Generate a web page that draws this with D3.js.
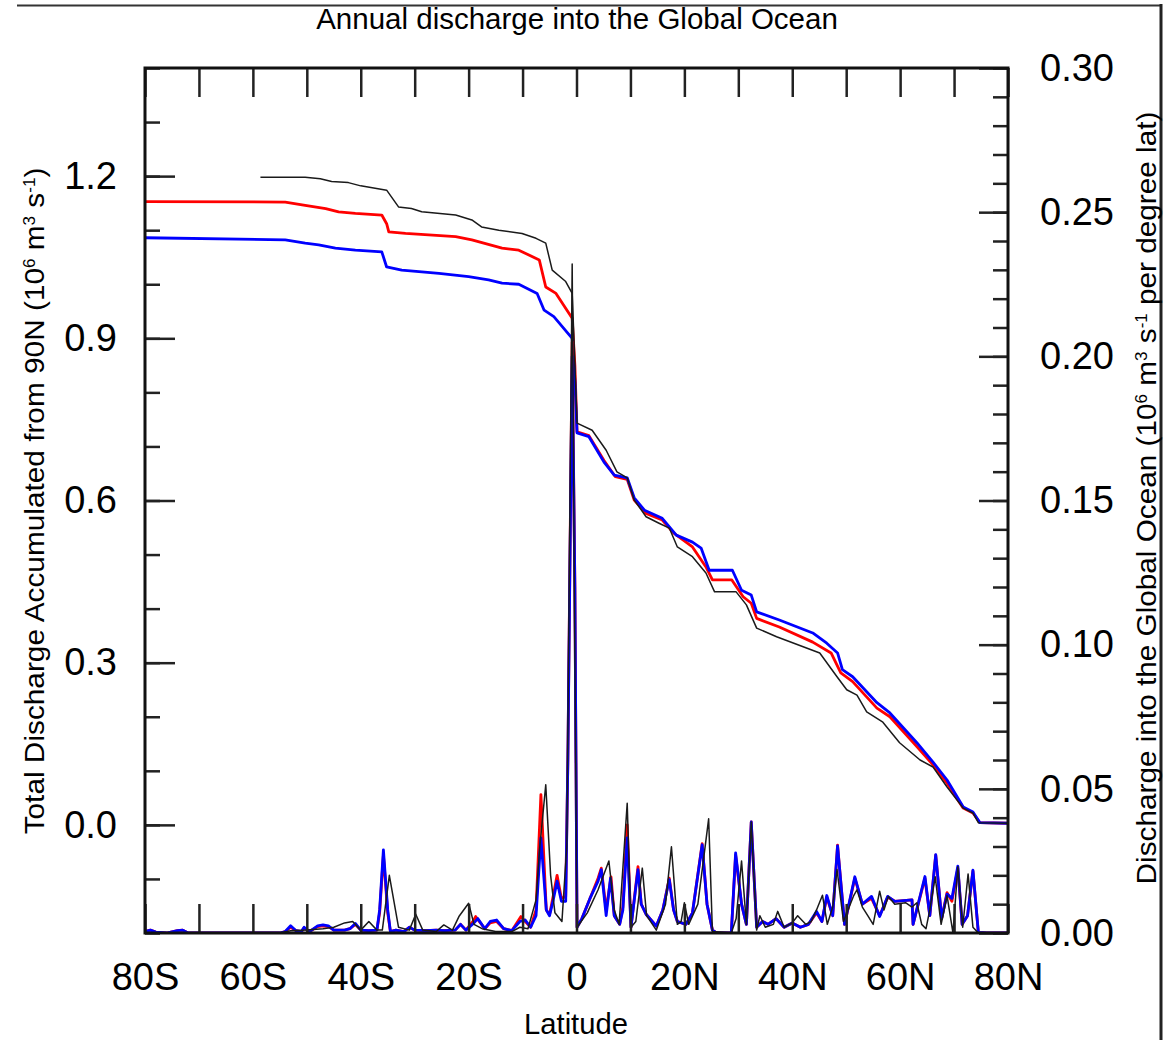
<!DOCTYPE html>
<html>
<head>
<meta charset="utf-8">
<script src="https://cdn.jsdelivr.net/npm/d3@7"></script>
<style>
  body { margin: 0; background: #fff; }
  text { font-family: "Liberation Sans", Arial, Helvetica, sans-serif; fill: #000; }
</style>
</head>
<body>
<div id="chart"></div>
<script>
// accumulated discharge from 90N, [latitude, 10^6 m3/s]
const accRed = [[-80,1.153],[-54,1.152],[-50.3,1.146],[-46.5,1.14],[-44.1,1.134],[-41,1.131],[-36.1,1.128],[-35.2,1.112],[-34.8,1.097],[-31.7,1.094],[-22.4,1.088],[-19.4,1.082],[-13.8,1.067],[-10.7,1.063],[-6.9,1.045],[-5.7,0.995],[-3.8,0.983],[-0.8,0.937],[-0.3,0.85],[0.1,0.727],[2.3,0.72],[5.1,0.674],[7.2,0.644],[9.4,0.639],[10.7,0.601],[12.9,0.576],[15.9,0.564],[18.1,0.539],[21.5,0.514],[24,0.477],[25.2,0.453],[28.8,0.453],[30.9,0.422],[32.4,0.41],[33.4,0.382],[37.6,0.366],[43.8,0.338],[47.2,0.318],[49,0.281],[51.2,0.265],[55.7,0.216],[58.1,0.2],[63.1,0.145],[66.1,0.111],[68.7,0.077],[71.7,0.031],[73.5,0.022],[74.8,0.004],[80,0.003]];
const accBlue = [[-80,1.086],[-54,1.082],[-50.3,1.076],[-47.8,1.073],[-44.7,1.067],[-41,1.063],[-36.1,1.06],[-35.2,1.032],[-32.4,1.026],[-25.5,1.02],[-20,1.014],[-16.3,1.008],[-13.8,1.002],[-10.7,1.0],[-7.3,0.983],[-6,0.952],[-4.2,0.94],[-0.8,0.9],[-0.3,0.82],[0.1,0.725],[2.3,0.718],[5.1,0.671],[7,0.647],[9.4,0.642],[10.7,0.605],[12.6,0.582],[15.9,0.567],[18.5,0.536],[21.5,0.523],[23.1,0.512],[24.6,0.471],[28.9,0.471],[30.6,0.434],[32.4,0.425],[33.4,0.394],[37.6,0.379],[43.8,0.355],[46.4,0.336],[48.4,0.318],[49.3,0.287],[51.2,0.274],[55.7,0.226],[58.1,0.207],[63.1,0.152],[66.1,0.116],[68.7,0.083],[71.7,0.033],[73.5,0.024],[74.8,0.004],[80,0.003]];
const accBlack = [[-58.6,1.198],[-50.3,1.198],[-47.5,1.195],[-45.4,1.19],[-42.3,1.188],[-40,1.182],[-35.2,1.174],[-33,1.143],[-30.6,1.14],[-28.7,1.134],[-22.4,1.128],[-19.4,1.119],[-17.6,1.106],[-14.4,1.1],[-10.1,1.094],[-7.5,1.085],[-5.7,1.076],[-4.5,1.026],[-2,1.005],[-0.8,0.983],[-0.4,0.88],[0.1,0.743],[2.9,0.73],[5.5,0.693],[7.5,0.653],[9.4,0.642],[10.7,0.601],[12.9,0.57],[15.3,0.558],[17.2,0.549],[18.7,0.514],[21.5,0.496],[24,0.466],[25.6,0.431],[29.6,0.431],[31.5,0.407],[33.4,0.364],[37.1,0.348],[45.1,0.318],[48.3,0.274],[50.1,0.25],[52,0.24],[53.8,0.209],[56.8,0.19],[59.9,0.152],[63.7,0.12],[66.1,0.107],[68.7,0.07],[71.7,0.031],[73.5,0.022],[74.5,0.004],[80,0.003]];

// discharge per degree latitude, [latitude, 10^6 m3/s]
const disBlue = [[-80,0.0005],[-79,0.001],[-78,0.0003],[-76,0],[-74,0.0008],[-73,0.001],[-72,0],[-55,0],[-54,0.0005],[-53,0.0025],[-52,0.0008],[-51,0.0005],[-50.5,0.002],[-49.5,0.0005],[-48,0.0025],[-47,0.0028],[-46,0.0025],[-45,0.001],[-43,0.001],[-42,0.0015],[-41,0.0033],[-40,0.001],[-38.5,0.0008],[-37,0.001],[-36.5,0.008],[-35.8,0.0288],[-35,0.008],[-34.5,0.0005],[-33.5,0.001],[-32,0.0005],[-31,0.002],[-30,0.001],[-28,0.0008],[-26,0.001],[-24.5,0.0008],[-22.5,0.001],[-21.5,0.003],[-20.5,0.001],[-19,0.0035],[-18.3,0.005],[-17,0.0015],[-16,0.004],[-14.8,0.0045],[-13.5,0.0015],[-12,0.0008],[-10.5,0.004],[-9.5,0.0045],[-8.5,0.002],[-7.5,0.006],[-6.6,0.033],[-5.6,0.008],[-5,0.006],[-4.3,0.0115],[-3.6,0.018],[-2.8,0.011],[-2,0.011],[-1.6,0.06],[-0.8,0.2],[-0.3,0.12],[0.1,0.002],[1,0.005],[2.5,0.012],[4,0.018],[4.6,0.022],[5.5,0.006],[6.3,0.019],[7,0.006],[8,0.003],[8.6,0.008],[9.4,0.033],[10.1,0.002],[11.4,0.022],[12,0.01],[12.9,0.0065],[14.8,0.0024],[16,0.008],[17.2,0.0185],[18,0.008],[18.7,0.004],[20.3,0.003],[21.5,0.007],[23.3,0.0306],[24.2,0.01],[25.2,0.001],[26,0],[28.7,0],[29.5,0.0278],[30.6,0.01],[31.5,0.003],[32.4,0.0385],[33.4,0.002],[34.5,0.004],[35.5,0.003],[37,0.005],[38.5,0.002],[40,0.0035],[41.5,0.002],[43,0.003],[44.5,0.0075],[45.5,0.004],[46.4,0.013],[47.5,0.006],[48.4,0.0302],[49.7,0.003],[51.6,0.0195],[53,0.01],[54.7,0.0127],[56.2,0.0057],[57.7,0.0127],[59,0.011],[62.2,0.0115],[62.4,0.003],[64.6,0.0196],[65.5,0.006],[66.6,0.0272],[67.7,0.005],[68.7,0.0135],[69.6,0.012],[70.7,0.0232],[71.5,0.003],[72.5,0.006],[73.5,0.0218],[74.5,0.0002],[76,0],[80,0]];
const disRed = [[-80,0.0005],[-79,0.001],[-78,0.0003],[-76,0],[-74,0.0008],[-73,0.001],[-72,0],[-55,0],[-54,0.0005],[-53,0.002],[-52,0.0008],[-51,0.0005],[-50.5,0.0018],[-49.5,0.0005],[-48,0.0022],[-47,0.0025],[-46,0.0022],[-45,0.001],[-43,0.001],[-42,0.0015],[-41,0.003],[-40,0.001],[-38.5,0.0008],[-37,0.001],[-36.5,0.007],[-35.8,0.027],[-35,0.007],[-34.5,0.0005],[-33.5,0.001],[-32,0.0005],[-31,0.002],[-30,0.001],[-28,0.0008],[-26,0.001],[-24.5,0.0008],[-22.5,0.001],[-21.5,0.003],[-20.5,0.001],[-19.2,0.004],[-18.7,0.0057],[-17,0.0015],[-16,0.0035],[-14.8,0.004],[-13.5,0.0015],[-12,0.0008],[-10.3,0.0057],[-9.5,0.004],[-8.5,0.002],[-7.5,0.008],[-6.6,0.048],[-5.6,0.008],[-5,0.0063],[-4.3,0.013],[-3.6,0.02],[-2.8,0.012],[-2,0.0127],[-1.6,0.06],[-0.8,0.205],[-0.3,0.12],[0.1,0.002],[1,0.005],[2.5,0.012],[4,0.019],[4.6,0.0225],[5.5,0.008],[6.4,0.0195],[7,0.006],[8,0.003],[8.6,0.009],[9.4,0.0375],[10.1,0.002],[11.4,0.023],[12,0.01],[12.9,0.0065],[14.8,0.0024],[16,0.008],[17.2,0.019],[18,0.008],[18.7,0.004],[20.3,0.003],[21.5,0.007],[23.3,0.031],[24.2,0.01],[25.2,0.001],[26,0],[28.7,0],[29.5,0.027],[30.6,0.01],[31.5,0.003],[32.4,0.0385],[33.4,0.002],[34.5,0.004],[35.5,0.003],[37,0.005],[38.5,0.002],[40,0.0035],[41.5,0.002],[43,0.003],[44.5,0.007],[45.5,0.004],[46.4,0.0125],[47.5,0.006],[48.4,0.0305],[49.7,0.003],[51.6,0.019],[53,0.01],[54.7,0.012],[56.2,0.006],[57.7,0.0125],[59,0.011],[62.2,0.0115],[62.4,0.003],[64.6,0.019],[65.5,0.006],[66.6,0.027],[67.7,0.005],[68.7,0.014],[69.6,0.011],[70.7,0.0225],[71.5,0.003],[72.5,0.006],[73.5,0.0215],[74.5,0.0002],[76,0],[80,0]];
const disBlack = [[-58.6,0],[-55,0],[-53,0.0008],[-50,0.001],[-47,0.0015],[-45,0.002],[-43,0.0035],[-41.5,0.004],[-40,0.001],[-38.5,0.004],[-37,0.001],[-36,0.001],[-34.7,0.02],[-33,0.002],[-31,0.001],[-29.8,0.0065],[-28.5,0.001],[-26,0.0005],[-24.6,0.0028],[-23,0.001],[-21.8,0.0057],[-20,0.0103],[-19,0.003],[-17.5,0.0015],[-15,0.0005],[-12,0.0005],[-10.5,0.002],[-9,0.0015],[-7.5,0.0115],[-6.8,0.03],[-5.7,0.0514],[-4.8,0.02],[-4,0.007],[-2.7,0.004],[-1.8,0.03],[-0.8,0.232],[-0.4,0.12],[0.1,0.002],[2,0.007],[4,0.015],[6,0.025],[7,0.008],[7.9,0.003],[9.4,0.045],[10.1,0.002],[11,0.004],[12.2,0.0225],[13,0.006],[14.8,0.001],[16.5,0.01],[17.6,0.0299],[18.7,0.003],[19.4,0.004],[20,0.0105],[20.8,0.003],[22.5,0.01],[24.5,0.0396],[25.2,0.0005],[28.7,0],[29.6,0.005],[30.6,0.025],[31.5,0.003],[32.4,0.0385],[33.4,0.001],[34,0.006],[35,0.002],[36.5,0.003],[37.3,0.0075],[38.5,0.002],[40,0.0035],[41,0.006],[42.5,0.003],[43.5,0.004],[44.5,0.008],[45.6,0.0131],[46.5,0.003],[47.5,0.009],[48.3,0.022],[49.5,0.004],[51.4,0.013],[52,0.015],[53,0.009],[54,0.006],[55,0.003],[56.2,0.0145],[57,0.008],[57.8,0.0127],[59,0.01],[61,0.0105],[62.2,0.009],[63.1,0.0105],[64,0.003],[64.8,0.0015],[65.5,0.008],[66.5,0.0195],[67.6,0.003],[68.7,0.013],[69.8,0],[70.7,0.023],[71.6,0.002],[72.6,0.0205],[73.5,0.002],[74.5,0],[80,0]];

const latTicks = d3.range(-80, 81, 10);
const latLabels = d3.range(-80, 81, 20);
const leftMajor = [0, 0.3, 0.6, 0.9, 1.2];
const leftMinor = d3.range(-2, 15).map(d => d / 10);
const rightMajor = [0, 0.05, 0.1, 0.15, 0.2, 0.25, 0.3];
const rightMinor = d3.range(0, 31).map(d => d / 100);

const W = 1167, H = 1040;
const pL = 145, pR = 1008, pT = 68, pB = 933;

const svg = d3.select("#chart").append("svg")
  .attr("width", W)
  .attr("height", H);

const x = d3.scaleLinear().domain([-80, 80]).range([pL, pR]);
const yL = d3.scaleLinear().domain([-0.2, 1.4]).range([pB, pT]);
const yR = d3.scaleLinear().domain([0, 0.3]).range([pB, pT]);

// screenshot edge lines
svg.append("line").attr("x1", 17).attr("x2", 1162).attr("y1", 5.5).attr("y2", 5.5)
  .attr("stroke", "#333").attr("stroke-width", 2);
svg.append("line").attr("x1", 1161).attr("x2", 1161).attr("y1", 4).attr("y2", H)
  .attr("stroke", "#222").attr("stroke-width", 3);

svg.append("clipPath").attr("id", "plot")
  .append("rect").attr("x", pL).attr("y", pT)
  .attr("width", pR - pL).attr("height", pB - pT);

const plot = svg.append("g").attr("clip-path", "url(#plot)");

const lineL = d3.line().x(d => x(d[0])).y(d => yL(d[1]));
const lineR = d3.line().x(d => x(d[0])).y(d => yR(d[1]));

const series = [
  { data: accRed, line: lineL, color: "#ff0000", w: 2.8 },
  { data: accBlue, line: lineL, color: "#0000ff", w: 2.8 },
  { data: accBlack, line: lineL, color: "#1a1a1a", w: 1.5 },
  { data: disRed, line: lineR, color: "#ff0000", w: 2.8 },
  { data: disBlue, line: lineR, color: "#0000ff", w: 2.8 },
  { data: disBlack, line: lineR, color: "#1a1a1a", w: 1.5 }
];

series.forEach(s => {
  plot.append("path")
    .attr("d", s.line(s.data))
    .attr("fill", "none")
    .attr("stroke", s.color)
    .attr("stroke-width", s.w)
    .attr("stroke-linejoin", "round");
});

// axes
const latFmt = d => d < 0 ? (-d) + "S" : d > 0 ? d + "N" : "0";

function styleAxis(g) {
  g.select(".domain").remove();
  g.selectAll(".tick line").attr("stroke", "#222").attr("stroke-width", 2.5);
  g.selectAll(".tick text")
    .style("font-family", '"Liberation Sans", Arial, sans-serif')
    .attr("font-size", 38).attr("fill", "#000");
}

svg.append("g").attr("transform", `translate(0,${pB})`)
  .call(d3.axisBottom(x).tickValues(latTicks).tickSize(-29).tickPadding(30)
    .tickFormat(d => latLabels.includes(d) ? latFmt(d) : ""))
  .call(styleAxis);

svg.append("g").attr("transform", `translate(0,${pT})`)
  .call(d3.axisTop(x).tickValues(latTicks).tickSize(-29).tickFormat(""))
  .call(styleAxis);

svg.append("g").attr("transform", `translate(${pL},0)`)
  .call(d3.axisLeft(yL).tickValues(leftMinor).tickSize(-15).tickFormat(""))
  .call(styleAxis);
svg.append("g").attr("transform", `translate(${pL},0)`)
  .call(d3.axisLeft(yL).tickValues(leftMajor).tickSize(-30).tickPadding(28)
    .tickFormat(d3.format(".1f")))
  .call(styleAxis);

svg.append("g").attr("transform", `translate(${pR},0)`)
  .call(d3.axisRight(yR).tickValues(rightMinor).tickSize(-15).tickFormat(""))
  .call(styleAxis);
svg.append("g").attr("transform", `translate(${pR},0)`)
  .call(d3.axisRight(yR).tickValues(rightMajor).tickSize(-29).tickPadding(32)
    .tickFormat(d3.format(".2f")))
  .call(styleAxis);

// frame
svg.append("rect")
  .attr("x", pL).attr("y", pT)
  .attr("width", pR - pL).attr("height", pB - pT)
  .attr("fill", "none").attr("stroke", "#111").attr("stroke-width", 3);

// titles, stretched to the widths seen in the picture
function fit(t, len, pre) {
  const w = t.node().getComputedTextLength();
  t.attr("transform", `${pre} scale(${len / w},1)`);
}

const title = svg.append("text").attr("text-anchor", "middle").attr("font-size", 29)
  .text("Annual discharge into the Global Ocean");
fit(title, 522, "translate(577,29)");

const xTitle = svg.append("text").attr("text-anchor", "middle").attr("font-size", 29)
  .text("Latitude");
fit(xTitle, 104, "translate(576,1034)");

function unitTitle(parts) {
  const t = svg.append("text").attr("text-anchor", "middle").attr("font-size", 28);
  parts.forEach(p => {
    const s = t.append("tspan").text(p[0]);
    if (p[1]) s.attr("baseline-shift", "super").attr("font-size", 16);
  });
  return t;
}

const yLTitle = unitTitle([["Total Discharge Accumulated from 90N (10"], ["6", 1], [" m"], ["3", 1], [" s"], ["-1", 1], [")"]]);
fit(yLTitle, 667, "translate(44,501) rotate(-90)");

const yRTitle = unitTitle([["Discharge into the Global Ocean (10"], ["6", 1], [" m"], ["3", 1], [" s"], ["-1", 1], [" per degree lat)"]]);
fit(yRTitle, 773, "translate(1156,498) rotate(-90)");
</script>
</body>
</html>
